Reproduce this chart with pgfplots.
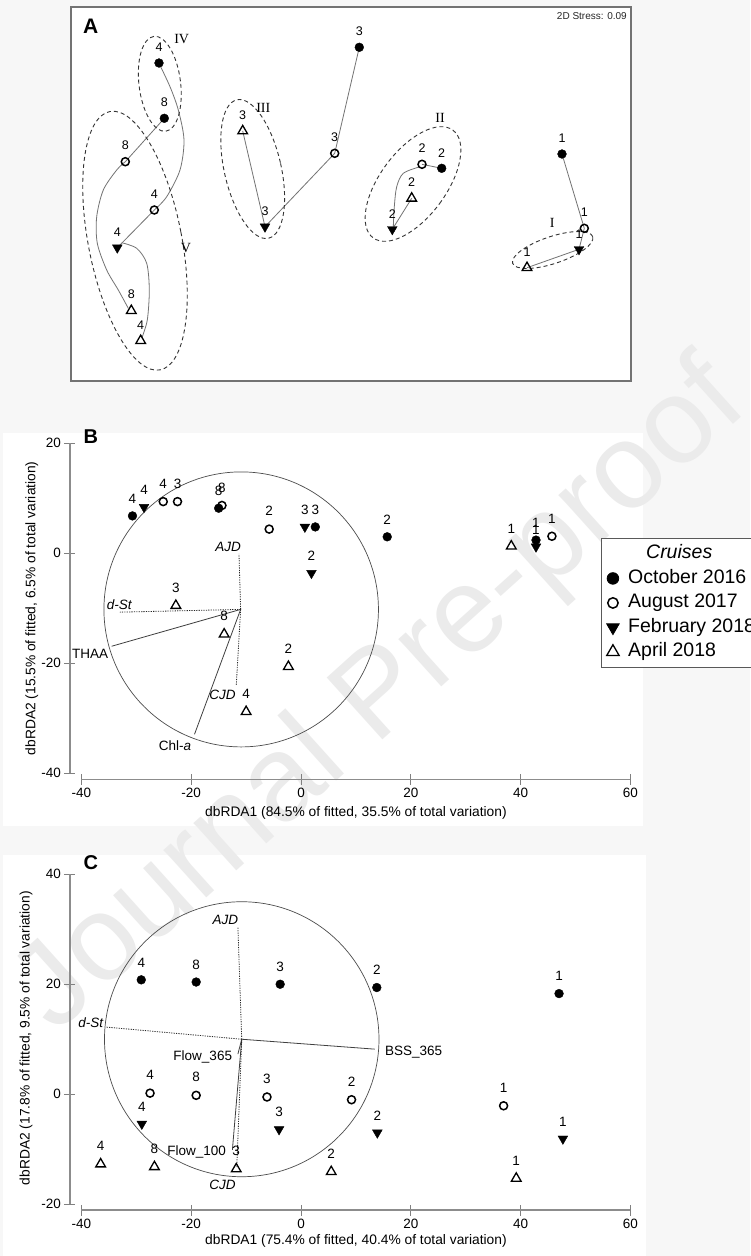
\documentclass[border=0pt]{standalone}
\usepackage{fontspec}
\setmainfont{Liberation Sans}
\newfontfamily\romanfont{Liberation Serif}
\usepackage{pgfplots}
\usepackage{pgfplotstable}
\pgfplotsset{compat=1.18}

\pgfplotsset{
  oct/.style={only marks, mark=*, mark size=4.4pt, black, mark options={fill=black}},
  aug/.style={only marks, mark=o, mark size=4.0pt, black, mark options={line width=1.5pt}},
  feb/.style={only marks, mark=triangle*, mark size=5.6pt, black, mark options={rotate=180, fill=black}},
  apr/.style={only marks, mark=triangle, mark size=5.6pt, black, mark options={line width=1.3pt}},
  labA/.style={nodes near coords, point meta=explicit symbolic,
     every node near coord/.append style={anchor=south, yshift=11pt, inner sep=0pt, font=\fontsize{12.5}{13}\selectfont, text=black}},
  labB/.style={nodes near coords, point meta=explicit symbolic,
     every node near coord/.append style={anchor=south, yshift=12.5pt, inner sep=0pt, font=\fontsize{13.5}{14}\selectfont, text=black}},
  traj/.style={black!55, line width=0.8pt, forget plot},
  vsolid/.style={black!75, line width=0.8pt, forget plot},
  vdot/.style={black!85, line width=0.8pt, dash pattern=on 1.2pt off 1.2pt, forget plot},
  rda/.style={
    x=5.49pt, y=5.5pt, xmin=-42.1, xmax=62, clip=false,
    axis lines*=left, axis line style={draw=none},
    tick align=center, major tick length=11pt,
    every tick/.style={black!50, line width=0.8pt},
    xtick={-40,-20,0,20,40,60},
    tick label style={font=\fontsize{13.5}{14}\selectfont, text=black},
    /pgf/number format/assume math mode=true,
  },
}
\tikzset{
  grp/.style={black!80, line width=0.9pt, dash pattern=on 4pt off 3pt},
  circ/.style={black!70, line width=0.7pt},
  axl/.style={black!45, line width=1.3pt},
  vlab/.style={font=\fontsize{13.5}{14}\selectfont, inner sep=0pt},
}

\begin{document}
\begin{tikzpicture}
% page background
\fill[black!3] (0,0) rectangle (750pt,-1256pt);
\fill[white] (71pt,-7pt) rectangle (631pt,-381pt);
\fill[white] (3pt,-433pt) rectangle (643pt,-826pt);
\fill[white] (3pt,-855pt) rectangle (646pt,-1256pt);
\node[rotate=42, text=black!8, font=\fontsize{121}{121}\selectfont] at (382pt,-698pt) {Journal Pre-proof};

% ---------------- Panel A (nMDS) ----------------
\begin{axis}[at={(71pt,-381pt)}, anchor=south west, x=1pt, y=1pt,
  xmin=71, xmax=631, ymin=7, ymax=381, y dir=reverse,
  xtick=\empty, ytick=\empty, axis line style={black!55, line width=1.2pt}, clip=false]
% trajectories
\addplot[traj, smooth] coordinates {(159,63.3) (170,86.7) (178.3,110) (184,140) (180,170) (166.7,196.7) (154.3,210)};
\addplot[traj] coordinates {(154.3,210) (117.3,247.7)};
\addplot[traj, smooth] coordinates {(121.7,242.7) (136.7,248.3) (146.7,263.3) (149.3,290) (147.3,320) (141.7,338.3)};
\addplot[traj] coordinates {(164.3,118.3) (125.3,161.7)};
\addplot[traj, smooth] coordinates {(125.3,161.7) (116.7,170) (103.3,190) (96.7,216.7) (97.3,243.3) (106.7,270) (118.3,290) (128.3,308.3)};
\addplot[traj] coordinates {(359.3,47.3) (334.7,153.3) (265,226.7) (242.7,131)};
\addplot[traj] coordinates {(441.7,168.3) (422,164.3)};
\addplot[traj, smooth] coordinates {(420,166.7) (403.3,173.3) (396.7,186.7) (394.3,206.7) (393.3,226.7)};
\addplot[traj] coordinates {(392.3,229.3) (411.7,198.3)};
\addplot[traj] coordinates {(562,154) (584.3,228.3) (579,249.3) (527,267.7)};
% group outlines
\draw[grp, rotate around={7:(axis cs:159.8,83.8)}] (axis cs:159.8,83.8) ellipse [x radius=20.8pt, y radius=47.8pt];
\draw[grp, rotate around={11:(axis cs:135,240.7)}] (axis cs:135,240.7) ellipse [x radius=46.7pt, y radius=131.6pt];
\draw[grp, rotate around={12.9:(axis cs:252.7,169)}] (axis cs:252.7,169) ellipse [x radius=28.4pt, y radius=71pt];
\draw[grp, rotate around={-36.5:(axis cs:413,184)}] (axis cs:413,184) ellipse [x radius=33pt, y radius=67pt];
\draw[grp, rotate around={18.4:(axis cs:552.7,250)}] (axis cs:552.7,250) ellipse [x radius=42.2pt, y radius=13.5pt];
% samples
\addplot[oct, labA] table[meta=l] {
x y l
159 63 4
164.3 118.3 8
359.3 47.3 3
441.7 168.3 2
562 154 1
};
\addplot[aug, labA] table[meta=l] {
x y l
125.3 161.7 8
154.3 210 4
334.7 153.3 3
422 164.3 2
584.3 228.3 1
};
\addplot[feb, labA] table[meta=l] {
x y l
117.3 247.7 4
265 226.7 3
392.3 229.3 2
579 249.3 1
};
\addplot[apr, labA] table[meta=l] {
x y l
131.3 310.7 8
140.7 340.7 4
242.7 131 3
411.7 198.3 2
527 267.7 1
};
\node[font=\fontsize{21}{21}\selectfont\bfseries, inner sep=0pt] at (axis cs:90.7,26.7) {A};
\node[font=\fontsize{10}{10}\selectfont, anchor=east, inner sep=0pt, text=black!85] at (axis cs:627,16) {2D Stress: 0.09};
\node[font=\romanfont\fontsize{14}{14}\selectfont, inner sep=0pt] at (axis cs:181.7,39) {IV};
\node[font=\romanfont\fontsize{14}{14}\selectfont, inner sep=0pt] at (axis cs:263.3,107.7) {III};
\node[font=\romanfont\fontsize{14}{14}\selectfont, inner sep=0pt] at (axis cs:186,248.3) {V};
\node[font=\romanfont\fontsize{14}{14}\selectfont, inner sep=0pt] at (axis cs:440,118.3) {II};
\node[font=\romanfont\fontsize{14}{14}\selectfont, inner sep=0pt] at (axis cs:552.3,223) {I};
\end{axis}

% ---------------- Panel B (dbRDA) ----------------
\begin{axis}[rda, at={(69.9pt,-779.35pt)}, anchor=south west,
  ymin=-41.1, ymax=22, ytick={-40,-20,0,20},
  legend style={at={(axis cs:54.64,2.73)}, anchor=north west, draw=black!65, line width=0.8pt,
    fill=white, font=\fontsize{19.5}{24}\selectfont, inner sep=3pt, row sep=0pt,
    nodes={text height=15pt, text depth=5.5pt, inner sep=2pt},
    /tikz/every odd column/.append style={column sep=7pt}},
  legend cell align=left]
\draw[axl] (axis cs:-40,-41.1) -- (axis cs:60,-41.1);
\draw[axl] (axis cs:-42.1,-40) -- (axis cs:-42.1,20);
\draw[circ] (axis cs:-10.9,-10.2) ellipse [x radius=137.25pt, y radius=137.5pt];
\addplot[vdot] coordinates {(-11,-10.2) (-11.3,-0.1)};
\addplot[vdot] coordinates {(-11,-10.2) (-33.0,-10.7)};
\addplot[vsolid] coordinates {(-11,-10.2) (-34.5,-16.9)};
\addplot[vsolid] coordinates {(-11,-10.2) (-19.4,-32.9)};
\addplot[vdot] coordinates {(-11,-10.2) (-11.8,-24.1)};
\node[vlab] at (axis cs:-13.3,1.2) {\itshape AJD};
\node[vlab] at (axis cs:-33.1,-9.3) {\itshape d-St};
\node[vlab] at (axis cs:-38.4,-18.2) {THAA};
\node[vlab] at (axis cs:-22.95,-35.0) {Chl-\textit{a}};
\node[vlab] at (axis cs:-14.3,-25.8) {\itshape CJD};
\addplot[oct, labB, forget plot] table[meta=l] {
x y l
-30.7 6.8 4
-15.0 8.2 8
2.6 4.8 3
15.7 3.0 2
42.8 2.4 1
};
\addplot[aug, labB, forget plot] table[meta=l] {
x y l
-25.1 9.4 4
-14.4 8.7 8
-22.5 9.4 3
-5.8 4.4 2
45.7 3.1 1
};
\addplot[feb, labB, forget plot] table[meta=l] {
x y l
-28.6 8.4 4
0.7 4.8 3
1.9 -3.6 2
42.8 1.2 1
};
\addplot[apr, labB, forget plot] table[meta=l] {
x y l
-10.0 -28.8 4
-14.0 -14.7 8
-22.8 -9.5 3
-2.3 -20.6 2
38.3 1.3 1
};
\addlegendimage{empty legend}\addlegendentry{\hspace*{18pt}\textit{Cruises}}
\addlegendimage{oct, mark size=5.8pt}\addlegendentry{October 2016}
\addlegendimage{aug, mark size=5.2pt}\addlegendentry{August 2017}
\addlegendimage{feb, mark size=7.2pt}\addlegendentry{February 2018}
\addlegendimage{apr, mark size=7.2pt}\addlegendentry{April 2018}
\node[font=\fontsize{20}{20}\selectfont\bfseries, inner sep=0pt] at (axis cs:-38.3,21.2) {B};
\node[font=\fontsize{13.8}{14}\selectfont] at (axis cs:10.0,-47.2) {dbRDA1 (84.5\% of fitted, 35.5\% of total variation)};
\node[font=\fontsize{13.8}{14}\selectfont, rotate=90] at (axis cs:-49.05,-10.0) {dbRDA2 (15.5\% of fitted, 6.5\% of total variation)};
\end{axis}

% ---------------- Panel C (dbRDA) ----------------
\begin{axis}[rda, at={(69.9pt,-1210pt)}, anchor=south west,
  ymin=-21.05, ymax=42, ytick={-20,0,20,40}]
\draw[axl] (axis cs:-40,-21.05) -- (axis cs:60,-21.05);
\draw[axl] (axis cs:-42.1,-20) -- (axis cs:-42.1,40);
\draw[circ] (axis cs:-10.8,10.0) ellipse [x radius=137.25pt, y radius=137.5pt];
\addplot[vdot] coordinates {(-10.8,10.0) (-11.5,30.4)};
\addplot[vdot] coordinates {(-10.8,10.0) (-35.4,12.2)};
\addplot[vsolid] coordinates {(-10.8,10.0) (13.4,8.2)};
\addplot[vsolid] coordinates {(-10.8,10.0) (-11.5,7.3)};
\addplot[vsolid] coordinates {(-10.8,10.0) (-12.5,-10.1)};
\addplot[vdot] coordinates {(-10.8,10.0) (-11.7,-13.2)};
\node[vlab] at (axis cs:-13.8,31.7) {\itshape AJD};
\node[vlab] at (axis cs:-38.3,13.0) {\itshape d-St};
\node[vlab] at (axis cs:-17.9,6.8) {Flow\_365};
\node[vlab] at (axis cs:-19.0,-10.5) {Flow\_100};
\node[vlab] at (axis cs:-14.3,-16.5) {\itshape CJD};
\node[vlab] at (axis cs:20.5,7.7) {BSS\_365};
\addplot[oct, labB, forget plot] table[meta=l] {
x y l
-29.1 20.8 4
-19.1 20.4 8
-3.8 20.0 3
13.8 19.4 2
47.0 18.3 1
};
\addplot[aug, labB, forget plot] table[meta=l] {
x y l
-27.5 0.2 4
-19.1 -0.2 8
-6.2 -0.5 3
9.2 -1.0 2
36.9 -2.1 1
};
\addplot[feb, labB, forget plot] table[meta=l] {
x y l
-29.0 -5.4 4
-4.0 -6.4 3
13.9 -7.0 2
47.7 -8.1 1
};
\addplot[apr, labB, forget plot] table[meta=l] {
x y l
-36.5 -12.7 4
-26.7 -13.2 8
-11.8 -13.6 3
5.5 -14.1 2
39.2 -15.3 1
};
\node[font=\fontsize{20}{20}\selectfont\bfseries, inner sep=0pt] at (axis cs:-38.3,42.1) {C};
\node[font=\fontsize{13.8}{14}\selectfont] at (axis cs:10.0,-26.7) {dbRDA1 (75.4\% of fitted, 40.4\% of total variation)};
\node[font=\fontsize{13.8}{14}\selectfont, rotate=90] at (axis cs:-50.1,10.2) {dbRDA2 (17.8\% of fitted, 9.5\% of total variation)};
\end{axis}

\pgfresetboundingbox
\useasboundingbox (0,0) rectangle (750pt,-1256pt);
\end{tikzpicture}
\end{document}
